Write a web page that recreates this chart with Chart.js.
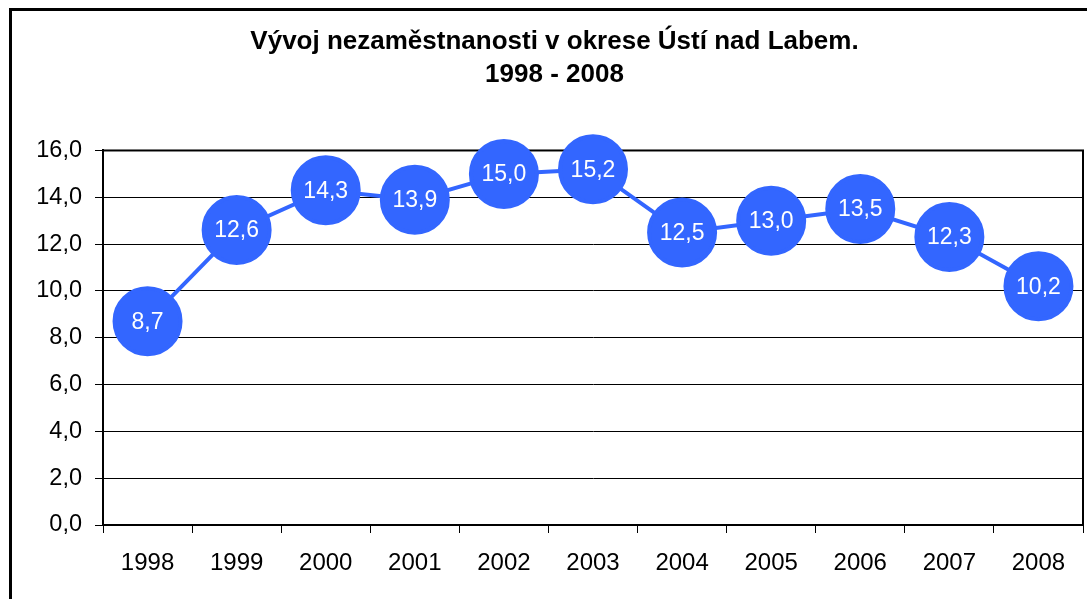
<!DOCTYPE html>
<html>
<head>
<meta charset="utf-8">
<script src="https://cdn.jsdelivr.net/npm/chart.js@4"></script>
<style>
  html, body { margin: 0; padding: 0; background: #fff; overflow: hidden; }
  #wrap { position: relative; width: 1087px; height: 599px; }
</style>
</head>
<body>
<div id="wrap"><canvas id="graf" width="1087" height="599"></canvas></div>
<script>
// Data
const roky = ['1998', '1999', '2000', '2001', '2002', '2003', '2004', '2005', '2006', '2007', '2008'];
const nezamestnanost = [8.7, 12.6, 14.3, 13.9, 15.0, 15.2, 12.5, 13.0, 13.5, 12.3, 10.2];
const titulek = ['Vývoj nezaměstnanosti v okrese Ústí nad Labem.', '1998 - 2008'];

const modra = '#3366FF';
const pismo = "'Liberation Sans', Arial, sans-serif";

function cislo(v){ return v.toFixed(1).replace('.', ','); }

// ramecek kolem celeho grafu + okraj plochy
const ramecek = {
    id: 'ramecek',
    beforeDraw(chart){
        const ctx = chart.ctx;
        ctx.save();
        ctx.fillStyle = '#fff';
        ctx.fillRect(0, 0, chart.width, chart.height);
        ctx.strokeStyle = '#000';
        ctx.lineWidth = 3;
        ctx.beginPath();
        ctx.moveTo(10.5, chart.height + 5);
        ctx.lineTo(10.5, 9.5);
        ctx.lineTo(chart.width + 5, 9.5);
        ctx.stroke();
        ctx.restore();
    },
    beforeDatasetsDraw(chart){
        const a = chart.chartArea;
        const ctx = chart.ctx;
        ctx.save();
        ctx.strokeStyle = '#000';
        ctx.lineWidth = 2;
        ctx.strokeRect(a.left, a.top, a.right - a.left, a.bottom - a.top);
        ctx.restore();
    }
};

// popisky hodnot uvnitr bodu
const popisky = {
    id: 'popisky',
    afterDatasetsDraw(chart){
        const ctx = chart.ctx;
        const meta = chart.getDatasetMeta(0);
        ctx.save();
        ctx.fillStyle = '#fff';
        ctx.font = '23px ' + pismo;
        ctx.textAlign = 'center';
        ctx.textBaseline = 'middle';
        meta.data.forEach((p, i) => {
            ctx.fillText(cislo(nezamestnanost[i]), p.x, p.y + 1);
        });
        ctx.restore();
    }
};

new Chart(document.getElementById('graf'), {
    type: 'line',
    data: {
        labels: roky,
        datasets: [{
            data: nezamestnanost,
            borderColor: modra,
            borderWidth: 4,
            backgroundColor: modra,
            pointBackgroundColor: modra,
            pointBorderColor: modra,
            pointRadius: 33,
            pointHoverRadius: 33,
            tension: 0,
            clip: false
        }]
    },
    options: {
        responsive: false,
        animation: false,
        events: [],
        layout: { autoPadding: false, padding: { left: 26, right: 4, top: 0, bottom: 0 } },
        plugins: {
            legend: { display: false },
            tooltip: { enabled: false },
            title: {
                display: true,
                text: titulek,
                color: '#000',
                font: { family: pismo, size: 26, weight: 'bold', lineHeight: 1.24 },
                padding: { top: 26, bottom: 60 }
            }
        },
        scales: {
            x: {
                offset: true,
                grid: { offset: true, drawOnChartArea: false, drawTicks: true, tickLength: 8, color: '#000' },
                border: { color: '#000', width: 2 },
                ticks: { color: '#000', font: { family: pismo, size: 24 }, padding: 16, maxRotation: 0 },
                afterFit(s){ s.height = 74; }
            },
            y: {
                min: 0,
                max: 16,
                ticks: { stepSize: 2, color: '#000', font: { family: pismo, size: 23.5 }, padding: 13, callback: v => cislo(v) },
                grid: { color: '#000', lineWidth: 1, tickLength: 8 },
                border: { color: '#000', width: 2 },
                afterFit(s){ s.width = 77; }
            }
        }
    },
    plugins: [ramecek, popisky]
});
</script>
</body>
</html>
